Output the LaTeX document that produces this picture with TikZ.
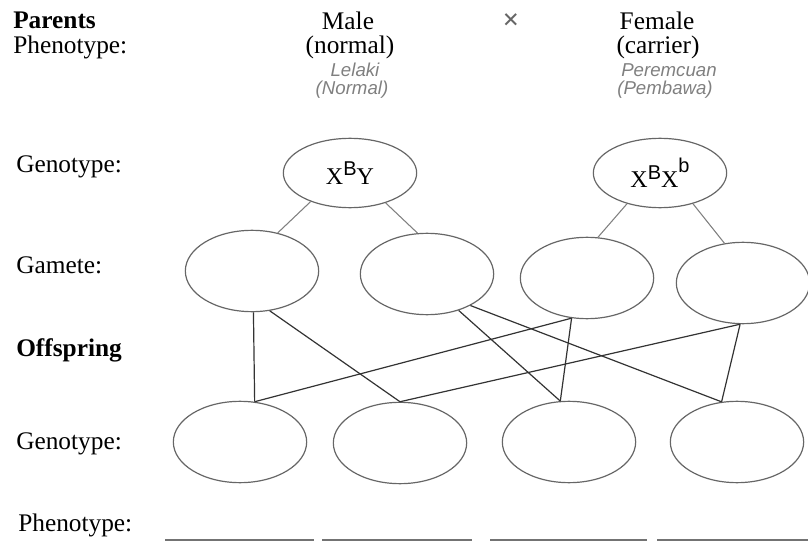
\documentclass[tikz,border=0pt]{standalone}
\usepackage{fontspec}
\setmainfont{Liberation Serif}
\setsansfont{Liberation Sans}
\usetikzlibrary{shapes.geometric}

\tikzset{
  oval/.style={ellipse, draw=black!60, line width=0.9pt, minimum width=100pt, minimum height=61pt, inner sep=0pt},
  parentoval/.style={oval, minimum height=52pt},
  rowtext/.style={anchor=base west, inner sep=0pt, font=\fontsize{19}{20}\selectfont},
  toptext/.style={anchor=base, inner sep=0pt, font=\fontsize{19}{20}\selectfont},
  malay/.style={anchor=base, inner sep=0pt, text=black!50, font=\sffamily\itshape\fontsize{14}{16}\selectfont},
  upline/.style={draw=black!50, line width=0.8pt},
  downline/.style={draw=black!80, line width=0.9pt},
  blank/.style={draw=black!55, line width=1.6pt}
}

\begin{document}
\begin{tikzpicture}[x=0.75pt, y=-0.75pt]
				\useasboundingbox (0,0) rectangle (808,542);
				
				% Подписи строк
				\node[rowtext, font=\bfseries\fontsize{19}{20}\selectfont] (parents) at (13,29) {Parents};
				\node[rowtext] (phen1) at (13,54) {Phenotype:};
				\node[rowtext] (gen1) at (16,172) {Genotype:};
				\node[rowtext] (gam) at (16,273) {Gamete:};
				\node[rowtext, font=\bfseries\fontsize{19}{20}\selectfont] (offs) at (16,356) {Offspring};
				\node[rowtext] (gen2) at (16,449) {Genotype:};
				\node[rowtext] (phen2) at (18,531) {Phenotype:};
				
				% Родители
				\node[toptext] (male) at (348,30) {Male};
				\node[toptext] (malen) at (350,54) {(normal)};
				\node[malay] (lelaki) at (355,77) {Lelaki};
				\node[malay] (lelakin) at (352,95) {(Normal)};
				\node[toptext, text=black!60, font=\bfseries\fontsize{22}{24}\selectfont] (cross) at (511,30) {×};
				\node[toptext] (female) at (657,30) {Female};
				\node[toptext] (femalec) at (658,54) {(carrier)};
				\node[malay] (perem) at (669,77) {Peremcuan};
				\node[malay] (pemb) at (665,95) {(Pembawa)};
				
				% Генотипы родителей
				\node[parentoval] (pm) at (350,173) {\fontsize{18}{20}\selectfont X\raisebox{0.8ex}{\sffamily\fontsize{15}{15}\selectfont B}Y};
				\node[parentoval] (pf) at (660,173) {\fontsize{18}{20}\selectfont X\raisebox{0.8ex}{\sffamily\fontsize{15}{15}\selectfont B}X\raisebox{1.4ex}{\sffamily\fontsize{15}{15}\selectfont b}};
				
				% Гаметы
				\node[oval] (g1) at (252,271) {};
				\node[oval] (g2) at (427,274) {};
				\node[oval] (g3) at (587,278) {};
				\node[oval] (g4) at (743,283) {};
				
				% Потомство
				\node[oval] (o1) at (240,442) {};
				\node[oval] (o2) at (400,443) {};
				\node[oval] (o3) at (569,442) {};
				\node[oval] (o4) at (737,442) {};
				
				% Линии от родителей к гаметам
				\draw[upline] (pm.-144) -- (g1.56);
				\draw[upline] (pm.-40) -- (g2.103);
				\draw[upline] (pf.-137) -- (g3.75);
				\draw[upline] (pf.-43) -- (g4.115);
				
				% Линии от гамет к потомству
				\draw[downline] (g1.-88) -- (o1.70);
				\draw[downline] (g1.-66) -- (o2.90);
				\draw[downline] (g2.-49) -- (o3.102);
				\draw[downline] (g2.-36) -- (o4.111);
				\draw[downline] (g3.-111) -- (o1.70);
				\draw[downline] (g3.-111) -- (o3.102);
				\draw[downline] (g4.-94) -- (o2.90);
				\draw[downline] (g4.-94) -- (o4.111);
				
				% Строки для фенотипа
				\foreach \a/\b in {165/314, 322/472, 490/647, 657/808}
					\draw[blank] (\a,540) -- (\b,540);
			\end{tikzpicture}
\end{document}
